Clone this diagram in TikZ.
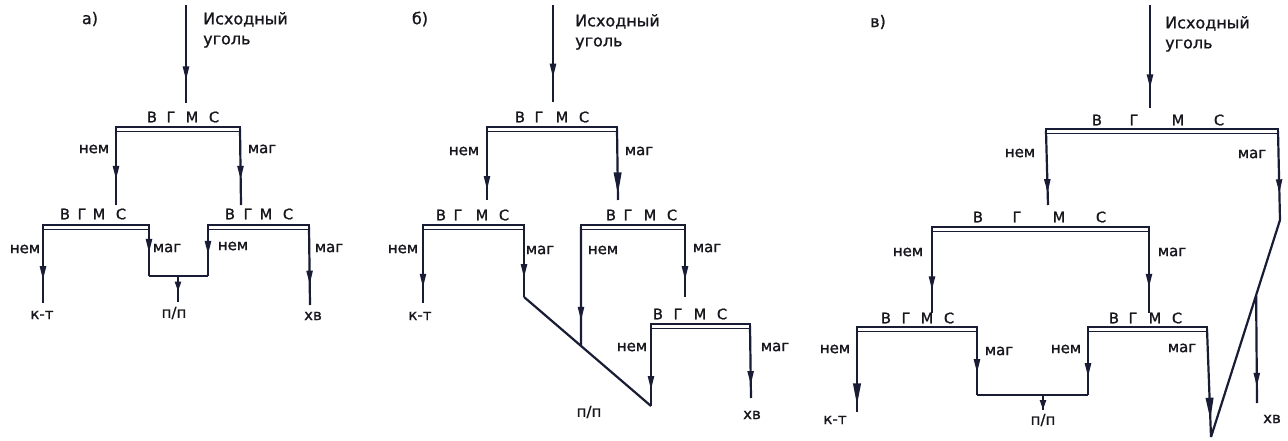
\documentclass[tikz,border=0pt]{standalone}
\usepackage{fontspec}
\setmainfont{DejaVu Sans}[BoldFont={DejaVu Sans}, BoldFeatures={FakeBold=1}]
\usetikzlibrary{arrows.meta,decorations.markings,calc}
\definecolor{ink}{RGB}{24,28,52}
\definecolor{txt}{RGB}{22,22,28}
\newcommand\lblfont{\bfseries\fontsize{15}{20}\selectfont}
\newcommand\letfont{\bfseries\fontsize{14.5}{18}\selectfont}
\newcommand\hdfont{\bfseries\fontsize{16}{20}\selectfont}
\newcommand\vgms[6]{%
  \node[ltr] (#1v) at (#2,#6) {В};
  \node[ltr] (#1g) at (#3,#6) {Г};
  \node[ltr] (#1m) at (#4,#6) {М};
  \node[ltr] (#1s) at (#5,#6) {С};}
\tikzset{
  ln/.style={draw=ink, line width=2.2pt},
  barl/.style={draw=ink, line width=1.5pt, fill=white},
  ar/.style={postaction={decorate}, decoration={markings,
      mark=at position #1 with {\arrow{Triangle[length=14pt,width=6pt]}}}},
  arb/.style={postaction={decorate}, decoration={markings,
      mark=at position #1 with {\arrow{Triangle[length=22pt,width=7.5pt]}}}},
  ars/.style={postaction={decorate}, decoration={markings,
      mark=at position #1 with {\arrow{Triangle[length=10pt,width=6pt]}}}},
  lab/.style={inner sep=0pt, font=\lblfont, text=txt},
  ltr/.style={inner sep=0pt, font=\letfont, text=txt},
  hd/.style={inner sep=0pt, font=\hdfont, text=txt},
}
\begin{document}
\begin{tikzpicture}[x=1pt,y=-1pt]
\useasboundingbox (0,0) rectangle (1288,441);
\fill[white] (0,0) rectangle (1288,441);

%%%%%%%%%%%%%%%% panel a
\node[hd] (aT) at (90,19) {а)};
\node[hd, anchor=north west, align=left] (aSrc) at (203,12) {Исходный\\уголь};
\coordinate (aS) at (186,5);
\coordinate (aE) at (186,103);
\draw[ln,ar=0.77] (aS) -- (aE);
\coordinate (aB1l) at (116,129); \coordinate (aB1r) at (240,129);
\vgms{aB1}{152}{171}{192}{214}{117}
\coordinate (aL1e) at (116,205); \coordinate (aR1e) at (241,205);
\draw[ln,ar=0.67] (aB1l) -- (aL1e);
\draw[ln,ar=0.67] (aB1r) -- (aR1e);
\node[lab] (aN1) at (94,149) {нем};
\node[lab] (aM1) at (262,149) {маг};
\coordinate (aB2l) at (43,227); \coordinate (aB2r) at (149,227);
\coordinate (aB3l) at (208,227); \coordinate (aB3r) at (309,227);
\vgms{aB2}{65}{82}{99}{121}{214}
\vgms{aB3}{230}{248}{266}{288}{214}
\coordinate (aKT) at (43,303);
\coordinate (aPL) at (149,276); \coordinate (aPR) at (208,276);
\coordinate (aPM) at (178,276); \coordinate (aPP) at (178,302);
\coordinate (aXB) at (310,305);
\draw[ln,ar=0.70] (aB2l) -- (aKT);
\draw[ln,ar=0.53] (aB2r) -- (aPL);
\draw[ln,ar=0.57] (aB3l) -- (aPR);
\draw[ln] (aPL) -- (aPR);
\draw[ln,ars=0.6] (aPM) -- (aPP);
\draw[ln,ar=0.74] (aB3r) -- (aXB);
\draw[barl] ([yshift=2pt]aB1l) rectangle ([yshift=-2.5pt]aB1r);
\draw[barl] ([yshift=2pt]aB2l) rectangle ([yshift=-2.5pt]aB2r);
\draw[barl] ([yshift=2pt]aB3l) rectangle ([yshift=-2.5pt]aB3r);
\node[lab] (aN2) at (25,249) {нем};
\node[lab] (aM2) at (167,248) {маг};
\node[lab] (aN3) at (233,246) {нем};
\node[lab] (aM3) at (329,248) {маг};
\node[lab] (aKTl) at (42,315) {к-т};
\node[lab] (aPPl) at (174,313) {п/п};
\node[lab] (aXBl) at (313,316) {хв};

%%%%%%%%%%%%%%%% panel b
\node[hd] (bT) at (420,19) {б)};
\node[hd, anchor=north west, align=left] (bSrc) at (575,14) {Исходный\\уголь};
\coordinate (bS) at (553,5);
\coordinate (bE) at (553,102);
\draw[ln,ar=0.75] (bS) -- (bE);
\coordinate (bB1l) at (487,129); \coordinate (bB1r) at (617,129);
\vgms{bB1}{520}{539}{562}{584}{117}
\coordinate (bL1e) at (487,200); \coordinate (bR1e) at (618,200);
\draw[ln,ar=0.86] (bB1l) -- (bL1e);
\draw[ln,arb=0.92] (bB1r) -- (bR1e);
\node[lab] (bN1) at (464,151) {нем};
\node[lab] (bM1) at (639,151) {маг};
\coordinate (bB2l) at (423,227); \coordinate (bB2r) at (524,227);
\coordinate (bB3l) at (581,227); \coordinate (bB3r) at (685,227);
\vgms{bB2}{441}{458}{482}{504}{215}
\vgms{bB3}{611}{628}{650}{672}{215}
\coordinate (bKT) at (423,303);
\coordinate (bD1) at (524,297);
\coordinate (bV) at (651,406);
\path (bD1) -- (bV) coordinate[pos=0.449] (bDm);
\coordinate (bM2e) at (685,297);
\draw[ln,ar=0.8] (bB2l) -- (bKT);
\draw[ln,ar=0.73] (bB2r) -- (bD1);
\draw[ln] (bD1) -- (bV);
\draw[ln,ar=0.79] (bB3l) -- (bDm);
\draw[ln,ar=0.76] (bB3r) -- (bM2e);
\coordinate (bB4l) at (651,326); \coordinate (bB4r) at (750,326);
\vgms{bB4}{658}{678}{700}{722}{314}
\coordinate (bXB) at (751,398);
\draw[ln,ar=0.8] (bB4l) -- (bV);
\draw[ln,ar=0.82] (bB4r) -- (bXB);
\draw[barl] ([yshift=2pt]bB1l) rectangle ([yshift=-2.5pt]bB1r);
\draw[barl] ([yshift=2pt]bB2l) rectangle ([yshift=-2.5pt]bB2r);
\draw[barl] ([yshift=2pt]bB3l) rectangle ([yshift=-2.5pt]bB3r);
\draw[barl] ([yshift=2pt]bB4l) rectangle ([yshift=-2.5pt]bB4r);
\node[lab] (bN2) at (403,249) {нем};
\node[lab] (bM2) at (540,250) {маг};
\node[lab] (bN3) at (603,250) {нем};
\node[lab] (bM3) at (707,248) {маг};
\node[lab] (bN4) at (632,347) {нем};
\node[lab] (bM4) at (775,347) {маг};
\node[lab] (bKTl) at (420,316) {к-т};
\node[lab] (bPPl) at (589,412) {п/п};
\node[lab] (bXBl) at (752,415) {хв};

%%%%%%%%%%%%%%%% panel c
\node[hd] (cT) at (878,22) {в)};
\node[hd, anchor=north west, align=left] (cSrc) at (1165,16) {Исходный\\уголь};
\coordinate (cS) at (1150,5);
\coordinate (cE) at (1150,108);
\draw[ln,ar=0.81] (cS) -- (cE);
\coordinate (cB1l) at (1046,131); \coordinate (cB1r) at (1278,131);
\vgms{cB1}{1097}{1134}{1178}{1219}{120}
\coordinate (cL1e) at (1048,205);
\coordinate (cK) at (1280,220);
\coordinate (cV) at (1211,437);
\path (cK) -- (cV) coordinate[pos=0.346] (cXs);
\coordinate (cXe) at (1257,403);
\draw[ln,ar=0.84] (cB1l) -- (cL1e);
\draw[ln,ar=0.70] (cB1r) -- (cK);
\draw[ln] (cK) -- (cV);
\draw[ln,ar=0.85] (cXs) -- (cXe);
\node[lab] (cN1) at (1020,153) {нем};
\node[lab] (cM1) at (1252,154) {маг};
\node[lab] (cXBl) at (1272,419) {хв};
\coordinate (cB2l) at (932,229); \coordinate (cB2r) at (1149,229);
\vgms{cB2}{978}{1017}{1059}{1101}{217}
\coordinate (cL2e) at (932,313); \coordinate (cR2e) at (1149,313);
\draw[ln,ar=0.73] (cB2l) -- (cL2e);
\draw[ln,ar=0.70] (cB2r) -- (cR2e);
\node[lab] (cN2) at (908,252) {нем};
\node[lab] (cM2) at (1172,252) {маг};
\coordinate (cB3l) at (857,329); \coordinate (cB3r) at (977,329);
\coordinate (cB4l) at (1088,329); \coordinate (cB4r) at (1207,329);
\vgms{cB3}{886}{906}{927}{949}{318}
\vgms{cB4}{1114}{1133}{1155}{1177}{318}
\coordinate (cKT) at (857,412);
\coordinate (cPL) at (977,395); \coordinate (cPR) at (1088,395);
\coordinate (cPM) at (1043,395); \coordinate (cPP) at (1043,410);
\draw[ln,arb=0.92] (cB3l) -- (cKT);
\draw[ln,ar=0.67] (cB3r) -- (cPL);
\draw[ln,ar=0.73] (cB4l) -- (cPR);
\draw[ln] (cPL) -- (cPR);
\draw[ln,ars=1] (cPM) -- (cPP);
\draw[ln,arb=0.84] (cB4r) -- (cV);
\draw[barl] ([yshift=2pt]cB1l) rectangle ([yshift=-2.5pt]cB1r);
\draw[barl] ([yshift=2pt]cB2l) rectangle ([yshift=-2.5pt]cB2r);
\draw[barl] ([yshift=2pt]cB3l) rectangle ([yshift=-2.5pt]cB3r);
\draw[barl] ([yshift=2pt]cB4l) rectangle ([yshift=-2.5pt]cB4r);
\node[lab] (cN3) at (835,349) {нем};
\node[lab] (cM3) at (999,351) {маг};
\node[lab] (cN4) at (1066,349) {нем};
\node[lab] (cM4) at (1182,348) {маг};
\node[lab] (cKTl) at (835,420) {к-т};
\node[lab] (cPPl) at (1043,420) {п/п};
\end{tikzpicture}
\end{document}
